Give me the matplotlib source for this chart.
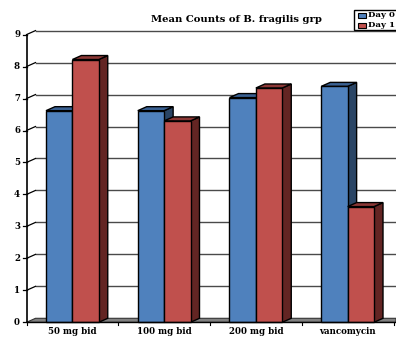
import matplotlib
matplotlib.use("Agg")
import matplotlib.pyplot as plt
from matplotlib.patches import Polygon, Rectangle

plt.rcParams['font.family'] = ['DejaVu Serif']
plt.rcParams['font.weight'] = 'bold'

categories = ["50 mg bid", "100 mg bid", "200 mg bid", "vancomycin"]
day0 = [6.62, 6.62, 7.03, 7.38]
day1 = [8.22, 6.3, 7.33, 3.62]
y_ticks = list(range(10))

W, H = 396, 337
fig = plt.figure(figsize=(W / 100, H / 100), dpi=100)
left, right, bottom, top = 26.5, 393.5, 322.3, 34.6
ax = fig.add_axes([left / W, 1 - bottom / H, (right - left) / W, (bottom - top) / H])
ax.set_xlim(0, 4)
ax.set_ylim(0, 9)
ax.axis("off")

# Depth of the pseudo-3D box, in data units
dx = 9 / ((right - left) / 4)
dy = 4 / ((bottom - top) / 9)
bar_w = 0.2875
x_end = (W - left) / ((right - left) / 4)


def poly(pts, fc, ec="black", lw=1.0, z=2):
    ax.add_patch(Polygon(pts, closed=True, fc=fc, ec=ec, lw=lw, zorder=z,
                         clip_on=False, joinstyle="miter"))


# Back-wall gridlines and their short diagonal links to the axis
for v in y_ticks[1:]:
    ax.plot([dx, x_end], [v + dy, v + dy], color="#4a4a4a", lw=1.0, zorder=1, clip_on=False)
    ax.plot([0, dx], [v, v + dy], color="black", lw=0.9, zorder=1, clip_on=False)
    ax.plot([-3.5 * dx / 9, 0], [v, v], color="black", lw=0.9, zorder=3, clip_on=False)

# Floor
poly([(0, 0), (dx, dy), (x_end, dy), (x_end, 0)], "#808080", ec="#333333", lw=0.8, z=1.5)
ax.plot([-3.5 * dx / 9, 0], [0, 0], color="black", lw=0.9, zorder=3, clip_on=False)

# Bars: front, top and side face of each box
def box(x0, v, front, side, topc, z):
    x1 = x0 + bar_w
    poly([(x1, 0), (x1 + dx, dy), (x1 + dx, v + dy), (x1, v)], side, z=z)
    poly([(x0, v), (x0 + dx, v + dy), (x1 + dx, v + dy), (x1, v)], topc, z=z)
    ax.add_patch(Rectangle((x0, 0), bar_w, v, fc=front, ec="black", lw=1.0, zorder=z,
                           clip_on=False))


for i, (a, b) in enumerate(zip(day0, day1)):
    box(i + 0.5 - bar_w, a, "#4F81BD", "#2A4565", "#3A6193", 2 + i * 0.1)
    box(i + 0.5, b, "#C0504D", "#632523", "#8C3836", 2.05 + i * 0.1)

# Axis lines and category ticks
ax.plot([0, 0], [0, 9], color="black", lw=1.2, zorder=4, clip_on=False)
ax.plot([0, x_end], [0, 0], color="black", lw=1.0, zorder=4, clip_on=False)
for i in range(5):
    ax.plot([i, i], [0, -0.09], color="black", lw=0.8, zorder=1, clip_on=False)

for v in y_ticks:
    ax.text(-0.07, v, str(v), ha="right", va="center", fontsize=6.2, fontweight="bold")
for i, c in enumerate(categories):
    ax.text(i + 0.5, -0.3, c, ha="center", va="center", fontsize=6.2, fontweight="bold")

fig.text(236 / W, 1 - 19.5 / H, "Mean Counts of B. fragilis grp", ha="center", va="center",
         fontsize=7.2, fontweight="bold")

# Legend box, running off the right edge of the canvas
fig.patches.append(Rectangle((353.5 / W, 1 - 29.5 / H), 50 / W, 19.5 / H, transform=fig.transFigure,
                             fc="white", ec="black", lw=1.0))
for name, col, py in [("Day 0", "#4F81BD", 15.3), ("Day 1", "#C0504D", 25.3)]:
    fig.patches.append(Rectangle((357.5 / W, 1 - (py + 2.3) / H), 8 / W, 4.6 / H,
                                 transform=fig.transFigure, fc=col, ec="black", lw=0.8))
    fig.text(368 / W, 1 - py / H, name, ha="left", va="center", fontsize=6.1, fontweight="bold")

fig.savefig("out.png", dpi=100)
